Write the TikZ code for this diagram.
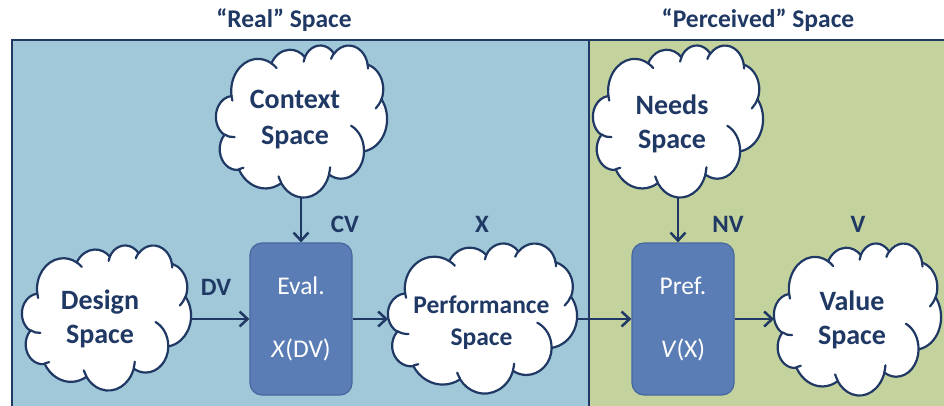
\documentclass[tikz,border=0pt]{standalone}
\usepackage{fontspec}
\setmainfont{Carlito}
\usetikzlibrary{arrows.meta}
\definecolor{navy}{HTML}{1F3864}
\definecolor{realfill}{HTML}{A0C8D8}
\definecolor{percfill}{HTML}{C4D39E}
\definecolor{boxfill}{HTML}{5B7DB5}
\definecolor{boxedge}{HTML}{46679E}
\tikzset{
  ooarc/.style n args={4}{
    x radius=#1, y radius=#2,
    start angle={(#3)+mod(atan2((#1)*sin(#3),(#2)*cos(#3))-(#3)+900,360)-180},
    end angle={(#3+#4)+mod(atan2((#1)*sin(#3+#4),(#2)*cos(#3+#4))-(#3+#4)+900,360)-180}},
  cloudline/.style={draw=navy, line width=2.2pt, line join=round, line cap=round},
  cloudbox/.style={rectangle, inner sep=0pt, outer sep=0pt},
  cloudtext/.style={text=navy, align=center, inner sep=0pt,
    font=\fontsize{28}{34}\selectfont\bfseries},
  fnbox/.style={rectangle, rounded corners=12pt, draw=boxedge, fill=boxfill, line width=1.2pt,
    text=white, align=center, minimum width=102pt, minimum height=152pt,
    font=\fontsize{25.5}{63}\selectfont},
  varlabel/.style={text=navy, font=\fontsize{25}{29}\selectfont\bfseries, inner sep=0pt},
  titlelabel/.style={text=navy, font=\fontsize{25.5}{30}\selectfont\bfseries, inner sep=0pt},
  arr/.style={draw=navy, line width=2.5pt, -{Straight Barb[length=8pt,width=15pt,line width=2.5pt]}}
}
% #1 name, #2 left, #3 top, #4 width, #5 height
\newcommand\pptcloud[5]{%
  \pgfmathsetmacro\cloudsx{#4/432}%
  \pgfmathsetmacro\cloudsy{#5/432}%
  \begin{scope}[shift={(#2,#3)}, x=\cloudsx pt, y=-\cloudsy pt]
    \filldraw[cloudline, fill=white] (39.00,143.70)
      arc[ooarc={67.53}{91.90}{-190.48748}{123.78053}]
      arc[ooarc={53.33}{72.67}{-144.10238}{89.94523}]
      arc[ooarc={43.65}{59.45}{-145.80792}{99.72302}]
      arc[ooarc={48.57}{65.95}{-130.98607}{117.24173}]
      arc[ooarc={53.33}{72.73}{-78.70888}{109.02692}]
      arc[ooarc={67.75}{92.20}{-46.26725}{130.26900}]
      arc[ooarc={57.85}{78.67}{0.62502}{114.03333}]
      arc[ooarc={67.52}{92.15}{22.45160}{115.17255}]
      arc[ooarc={77.20}{105.43}{66.24263}{75.71102}]
      arc[ooarc={43.60}{59.18}{-274.94208}{146.73557}]
      arc[ooarc={43.45}{59.45}{-246.82850}{152.51885}]
      -- cycle;
    \draw[cloudline] (46.93,261.77) arc[ooarc={43.45}{59.45}{86.74200}{26.42950}];
    \draw[cloudline] (69.28,348.99) arc[ooarc={43.60}{59.18}{73.61047}{11.44747}];
    \draw[cloudline] (164.78,390.90) arc[ooarc={67.52}{92.15}{137.62415}{14.08110}];
    \draw[cloudline] (288.27,347.51) arc[ooarc={67.52}{92.15}{6.45327}{15.99835}];
    \draw[cloudline] (341.29,229.54) arc[ooarc={57.85}{78.67}{-70.29235}{70.91737}];
    \draw[cloudline] (417.98,153.54) arc[ooarc={53.33}{72.73}{30.31803}{27.75150}];
    \draw[cloudline] (383.24,54.26) arc[ooarc={48.57}{65.95}{-13.74433}{14.85890}];
    \draw[cloudline] (290.78,39.52) arc[ooarc={48.57}{65.95}{-149.18145}{18.19537}];
    \draw[cloudline] (221.41,47.20) arc[ooarc={43.65}{59.45}{-163.49427}{17.68635}];
    \draw[cloudline] (140.00,51.92) arc[ooarc={67.53}{91.90}{-66.70695}{12.31935}];
    \draw[cloudline] (41.27,157.89) arc[ooarc={67.53}{91.90}{157.65435}{11.85817}];
  \end{scope}
  \node[cloudbox, minimum width=#4pt, minimum height=#5pt, anchor=north west] (#1) at (#2,#3) {};
}
\begin{document}
\begin{tikzpicture}[x=1pt,y=-1pt]
\useasboundingbox (0,0) rectangle (944,405);
\begin{scope}
  \clip (0,0) rectangle (944,405);
  \fill[realfill] (12,40) rectangle (589,410);
  \fill[percfill] (589,40) rectangle (950,410);
  \draw[navy, line width=2.2pt] (950,40) -- (12,40) -- (12,410);
  \draw[navy, line width=2.2pt] (589,40) -- (589,410);
\end{scope}
\node[titlelabel] (realt) at (284,20) {“Real” Space};
\node[titlelabel] (perct) at (758,20) {“Perceived” Space};

\pptcloud{context}{216}{45}{171}{152}
\pptcloud{design}{22}{245}{169}{145}
\pptcloud{perf}{388}{243}{189}{150}
\pptcloud{needs}{593}{45}{170}{152}
\pptcloud{value}{774}{243}{167}{152}

\node[cloudtext, font=\fontsize{28}{36}\selectfont\bfseries] (contextt) at (295,120) {Context\\Space};
\node[cloudtext] (designt) at (100,319) {Design\\Space};
\node[cloudtext, font=\fontsize{25.5}{32}\selectfont\bfseries] (perft) at (481.5,323) {Performance\\Space};
\node[cloudtext] (needst) at (672,124) {Needs\\Space};
\node[cloudtext] (valuet) at (852,320) {Value\\Space};

\node[fnbox] (eval) at (301,319) {Eval.\\\textit{X}(DV)};
\node[fnbox] (pref) at (683,319) {Pref.\\\textit{V}(X)};

\node[varlabel] (dv) at (216,287) {DV};
\node[varlabel] (cv) at (345,224) {CV};
\node[varlabel] (xl) at (482,224) {X};
\node[varlabel] (nv) at (728,224) {NV};
\node[varlabel] (vl) at (858,224) {V};

\draw[arr] (context.south -| eval.north) -- (eval.north);
\draw[arr] (needs.south) -- (needs.south |- pref.north);
\draw[arr] (design.east |- eval.west) -- (eval.west);
\draw[arr] (eval.east) -- (perf.west |- eval.east);
\draw[arr] (perf.east |- pref.west) -- (pref.west);
\draw[arr] (pref.east) -- (value.west |- pref.east);
\end{tikzpicture}
\end{document}
